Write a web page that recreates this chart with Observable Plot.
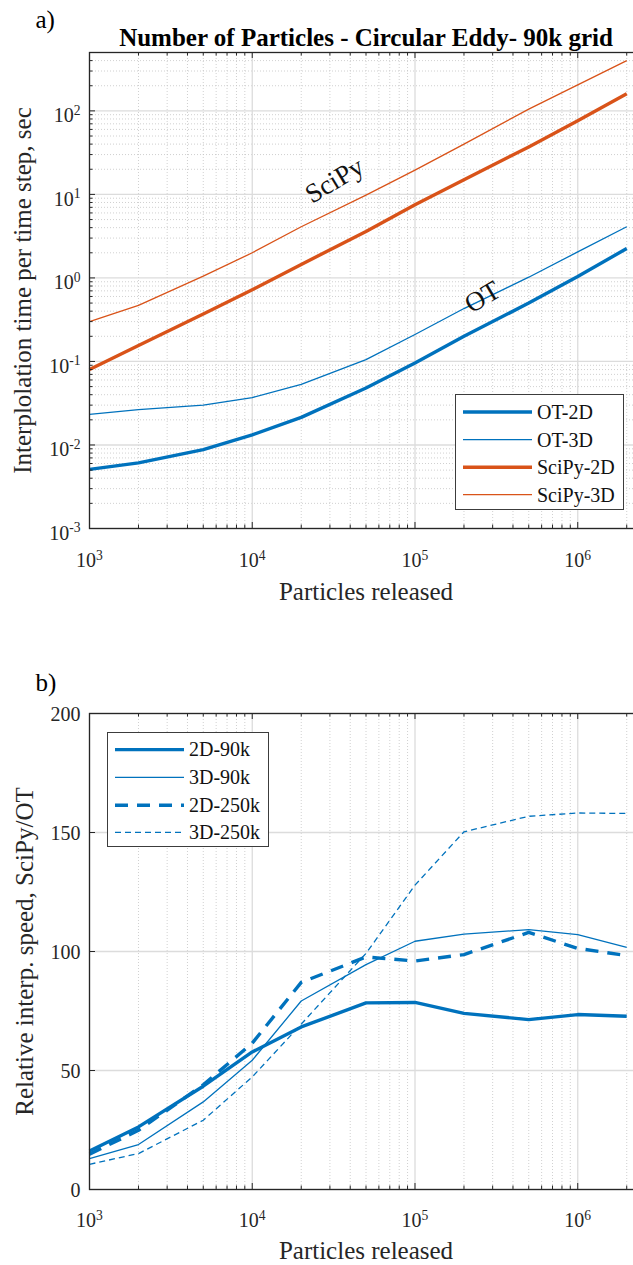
<!DOCTYPE html>
<html>
<head>
<meta charset="utf-8">
<script src="https://cdn.jsdelivr.net/npm/d3@7"></script>
<script src="https://cdn.jsdelivr.net/npm/@observablehq/plot@0.6"></script>
<style>
  html, body { margin: 0; padding: 0; background: #fff; }
  #wrap { position: relative; width: 633px; height: 1265px; overflow: hidden; font-family: "Liberation Serif", "Times New Roman", serif; color: #262626; }
  .panel { position: absolute; left: 0; max-width: none !important; }
  .legend { position: absolute; background: #fff; border: 1px solid #3c3c3c; box-sizing: border-box; }
  .legend svg { position: absolute; left: 0; top: 0; }
</style>
</head>
<body>
<div id="wrap"></div>
<script>
// ---------------- DATA ----------------
const particles = [1e3, 2e3, 5e3, 1e4, 2e4, 5e4, 1e5, 2e5, 5e5, 1e6, 2e6];

// Panel a) interpolation time per time step (sec)
const timeOT2D    = [0.0051, 0.0061, 0.0088, 0.0132, 0.0214, 0.048, 0.096, 0.2, 0.5, 1.04, 2.25];
const timeOT3D    = [0.0233, 0.0265, 0.030, 0.037, 0.053, 0.105, 0.21, 0.43, 1.02, 2.05, 4.1];
const timeSciPy2D = [0.08, 0.155, 0.37, 0.72, 1.45, 3.6, 7.5, 15, 37, 76, 160];
const timeSciPy3D = [0.30, 0.47, 1.05, 2.0, 4.1, 9.8, 19.5, 40, 105, 205, 400];

// Panel b) relative interpolation speed SciPy/OT
const speed2D90k  = [16.2, 26.3, 43.4, 57.8, 68.3, 78.4, 78.6, 74.0, 71.4, 73.5, 72.8];
const speed3D90k  = [13.0, 18.9, 36.8, 54.3, 79.2, 94.5, 104.3, 107.3, 109.2, 107.1, 101.7];
const speed2D250k = [14.8, 24.9, 44.0, 61.5, 87.0, 97.7, 96.0, 98.7, 108.0, 101.3, 98.3];
const speed3D250k = [10.6, 15.1, 29.1, 47.3, 69.5, 99.2, 127.9, 150.3, 156.8, 158.2, 158.0];

const seriesTop    = ["OT-2D", "OT-3D", "SciPy-2D", "SciPy-3D"];
const seriesBottom = ["2D-90k", "3D-90k", "2D-250k", "3D-250k"];

const xTickValues = [1e3, 1e4, 1e5, 1e6];
const xTickLabels = ["10^3", "10^4", "10^5", "10^6"];
const yTickValuesTop = [1e-3, 1e-2, 1e-1, 1, 10, 100];
const yTickLabelsTop = ["10^-3", "10^-2", "10^-1", "10^0", "10^1", "10^2"];
const yTickValuesBottom = [0, 50, 100, 150, 200];
const yTickLabelsBottom = ["0", "50", "100", "150", "200"];

const annotationText = ["SciPy", "OT"];
const annotationX = [3.2e4, 2.6e5];
const annotationY = [14.7, 0.59];

const titleTop = "Number of Particles - Circular Eddy- 90k grid";
const xLabel = "Particles released";
const yLabelTop = "Interplolation time per time step, sec";
const yLabelBottom = "Relative interp. speed, SciPy/OT";

// ---------------- STYLE ----------------
const BLUE = "#0072BD", ORANGE = "#D95319", AX = "#262626";
const FONT = "Liberation Serif";
const THICK = 3.4, THIN = 1.3;
const topStyle = {
  "OT-2D":    {stroke: BLUE,   strokeWidth: THICK, dash: null},
  "OT-3D":    {stroke: BLUE,   strokeWidth: THIN,  dash: null},
  "SciPy-2D": {stroke: ORANGE, strokeWidth: THICK, dash: null},
  "SciPy-3D": {stroke: ORANGE, strokeWidth: THIN,  dash: null}
};
const bottomStyle = {
  "2D-90k":  {stroke: BLUE, strokeWidth: THICK, dash: null},
  "3D-90k":  {stroke: BLUE, strokeWidth: THIN,  dash: null},
  "2D-250k": {stroke: BLUE, strokeWidth: THICK, dash: "13,9"},
  "3D-250k": {stroke: BLUE, strokeWidth: THIN,  dash: "6,4"}
};

const topValues = [timeOT2D, timeOT3D, timeSciPy2D, timeSciPy3D];
const bottomValues = [speed2D90k, speed3D90k, speed2D250k, speed3D250k];
const topRows = seriesTop.flatMap((s, j) => particles.map((p, i) => ({particles: p, value: topValues[j][i], series: s})));
const bottomRows = seriesBottom.flatMap((s, j) => particles.map((p, i) => ({particles: p, value: bottomValues[j][i], series: s})));
const annotations = annotationText.map((t, i) => ({text: t, x: annotationX[i], y: annotationY[i]}));

const isDecade = v => Math.abs(Math.log10(v) - Math.round(Math.log10(v))) < 1e-9;

const SVGW = 660;
const ML = 89, MR = 18;
const plotW = SVGW - ML - MR;
const xDomain = [1e3, 2.5e6];
const xAllTicks = d3.scaleLog().domain(xDomain).ticks();
const xMinor = xAllTicks.filter(v => !isDecade(v));

function lineMarks(rows, series, styles) {
  return series.map(s => Plot.line(rows.filter(r => r.series === s), {
    x: "particles", y: "value",
    stroke: styles[s].stroke, strokeWidth: styles[s].strokeWidth,
    strokeDasharray: styles[s].dash ?? undefined,
    strokeLinejoin: "round", strokeLinecap: "butt"
  }));
}

function superscripts(svg) {
  d3.select(svg).selectAll("text").each(function() {
    const t = this.textContent;
    const m = /^10\^(-?\d+)$/.exec(t);
    if (m) {
      const sel = d3.select(this);
      sel.text("10");
      sel.append("tspan").attr("dy", "-0.55em").attr("font-size", "0.68em").text(m[1]);
    }
  });
  d3.select(svg).selectAll("text").attr("font-family", FONT);
}

function makeLegend(left, top, width, height, series, styles, rowY) {
  const div = document.createElement("div");
  div.className = "legend";
  div.style.left = left + "px"; div.style.top = top + "px";
  div.style.width = width + "px"; div.style.height = height + "px";
  const svg = d3.create("svg").attr("width", width).attr("height", height)
    .attr("font-family", FONT).attr("font-size", 20);
  series.forEach((s, i) => {
    const y = rowY[i];
    svg.append("line").attr("x1", 7).attr("x2", 76).attr("y1", y).attr("y2", y)
      .attr("stroke", styles[s].stroke).attr("stroke-width", styles[s].strokeWidth)
      .attr("stroke-dasharray", styles[s].dash);
    svg.append("text").attr("x", 81).attr("y", y).attr("dy", "0.34em")
      .attr("fill", "#111").text(s);
  });
  div.appendChild(svg.node());
  return div;
}

const wrap = document.getElementById("wrap");
const tx = (o) => Object.assign({fontFamily: FONT, fill: AX, lineAnchor: "middle", textAnchor: "middle"}, o);

// ---------------- PANEL A ----------------
{
  const H = 633, MT = 52, MB = 105;
  const plotH = H - MT - MB;
  const yDomain = [1e-3, 500];
  const yAll = d3.scaleLog().domain(yDomain).ticks();
  const yMinor = yAll.filter(v => !isDecade(v));
  const chart = Plot.plot({
    width: SVGW, height: H,
    marginLeft: ML, marginRight: MR, marginTop: MT, marginBottom: MB,
    x: {type: "log", domain: xDomain, axis: null},
    y: {type: "log", domain: yDomain, axis: null},
    style: {fontFamily: FONT, fontSize: "20px", color: AX, background: "transparent", overflow: "visible", maxWidth: "none"},
    marks: [
      Plot.ruleX(xMinor, {stroke: "#c4c4c4", strokeWidth: 0.8, strokeDasharray: "1,2"}),
      Plot.ruleY(yMinor, {stroke: "#c4c4c4", strokeWidth: 0.8, strokeDasharray: "1,2"}),
      Plot.ruleX(xTickValues, {stroke: "#dcdcdc", strokeWidth: 1.3}),
      Plot.ruleY(yTickValuesTop, {stroke: "#dcdcdc", strokeWidth: 1.3}),
      ...lineMarks(topRows, seriesTop, topStyle),
      Plot.text(annotations, tx({x: "x", y: "y", text: "text", rotate: -31, fontSize: 27, fill: "#111"})),
      // ticks (inward)
      Plot.ruleX(xTickValues, {stroke: AX, insetTop: plotH - 6}),
      Plot.ruleX(xTickValues, {stroke: AX, insetBottom: plotH - 6}),
      Plot.ruleX(xMinor, {stroke: AX, insetTop: plotH - 3.5}),
      Plot.ruleX(xMinor, {stroke: AX, insetBottom: plotH - 3.5}),
      Plot.ruleY(yTickValuesTop, {stroke: AX, insetRight: plotW - 6}),
      Plot.ruleY(yMinor, {stroke: AX, insetRight: plotW - 3.5}),
      Plot.frame({stroke: AX, strokeWidth: 1.3}),
      // tick labels
      Plot.text(xTickValues, tx({x: d => d, text: (d, i) => xTickLabels[i], frameAnchor: "bottom", dy: 32.5, fontSize: 20})),
      Plot.text(yTickValuesTop, tx({y: d => d, text: (d, i) => yTickLabelsTop[i], frameAnchor: "left", textAnchor: "end", dx: -9, dy: 5, fontSize: 20})),
      // labels
      Plot.text([xLabel], tx({frameAnchor: "bottom", dy: 63, fontSize: 25})),
      Plot.text([yLabelTop], tx({frameAnchor: "left", dx: -67, rotate: -90, fontSize: 25})),
      Plot.text([titleTop], tx({frameAnchor: "top", dy: -15, fontSize: 25, fontWeight: "bold", fill: "#000"})),
      Plot.text(["a)"], tx({frameAnchor: "top-left", textAnchor: "start", dx: -54, dy: -33, fontSize: 25, fill: "#000"}))
    ]
  });
  superscripts(chart);
  chart.classList.add("panel");
  chart.style.top = "0px";
  chart.style.maxWidth = "none";
  chart.style.width = SVGW + "px";
  chart.style.height = H + "px";
  wrap.appendChild(chart);
  wrap.appendChild(makeLegend(455, 394, 169, 116, seriesTop, topStyle, [17, 44.7, 72.3, 99.7]));
}

// ---------------- PANEL B ----------------
{
  const TOP = 633, H = 632, MT = 80, MB = 76;
  const plotH = H - MT - MB;
  const chart = Plot.plot({
    width: SVGW, height: H,
    marginLeft: ML, marginRight: MR, marginTop: MT, marginBottom: MB,
    x: {type: "log", domain: xDomain, axis: null},
    y: {type: "linear", domain: [0, 200], axis: null},
    style: {fontFamily: FONT, fontSize: "20px", color: AX, background: "transparent", overflow: "visible", maxWidth: "none"},
    marks: [
      Plot.ruleX(xMinor, {stroke: "#c4c4c4", strokeWidth: 0.8, strokeDasharray: "1,2"}),
      Plot.ruleX(xTickValues, {stroke: "#dcdcdc", strokeWidth: 1.3}),
      Plot.ruleY(yTickValuesBottom, {stroke: "#dcdcdc", strokeWidth: 1.3}),
      ...lineMarks(bottomRows, seriesBottom, bottomStyle),
      Plot.ruleX(xTickValues, {stroke: AX, insetTop: plotH - 6}),
      Plot.ruleX(xTickValues, {stroke: AX, insetBottom: plotH - 6}),
      Plot.ruleX(xMinor, {stroke: AX, insetTop: plotH - 3.5}),
      Plot.ruleX(xMinor, {stroke: AX, insetBottom: plotH - 3.5}),
      Plot.ruleY(yTickValuesBottom, {stroke: AX, insetRight: plotW - 6}),
      Plot.frame({stroke: AX, strokeWidth: 1.3}),
      Plot.text(xTickValues, tx({x: d => d, text: (d, i) => xTickLabels[i], frameAnchor: "bottom", dy: 31.5, fontSize: 20})),
      Plot.text(yTickValuesBottom, tx({y: d => d, text: (d, i) => yTickLabelsBottom[i], frameAnchor: "left", textAnchor: "end", dx: -9, dy: 1, fontSize: 20})),
      Plot.text([xLabel], tx({frameAnchor: "bottom", dy: 61, fontSize: 25})),
      Plot.text([yLabelBottom], tx({frameAnchor: "left", dx: -65, rotate: -90, fontSize: 25})),
      Plot.text(["b)"], tx({frameAnchor: "top-left", textAnchor: "start", dx: -54, dy: -31, fontSize: 25, fill: "#000"}))
    ]
  });
  superscripts(chart);
  chart.classList.add("panel");
  chart.style.top = TOP + "px";
  chart.style.maxWidth = "none";
  chart.style.width = SVGW + "px";
  chart.style.height = H + "px";
  wrap.appendChild(chart);
  wrap.appendChild(makeLegend(107, 732, 162, 115, seriesBottom, bottomStyle, [16.6, 44.3, 72.3, 99.3]));
}
</script>
</body>
</html>
